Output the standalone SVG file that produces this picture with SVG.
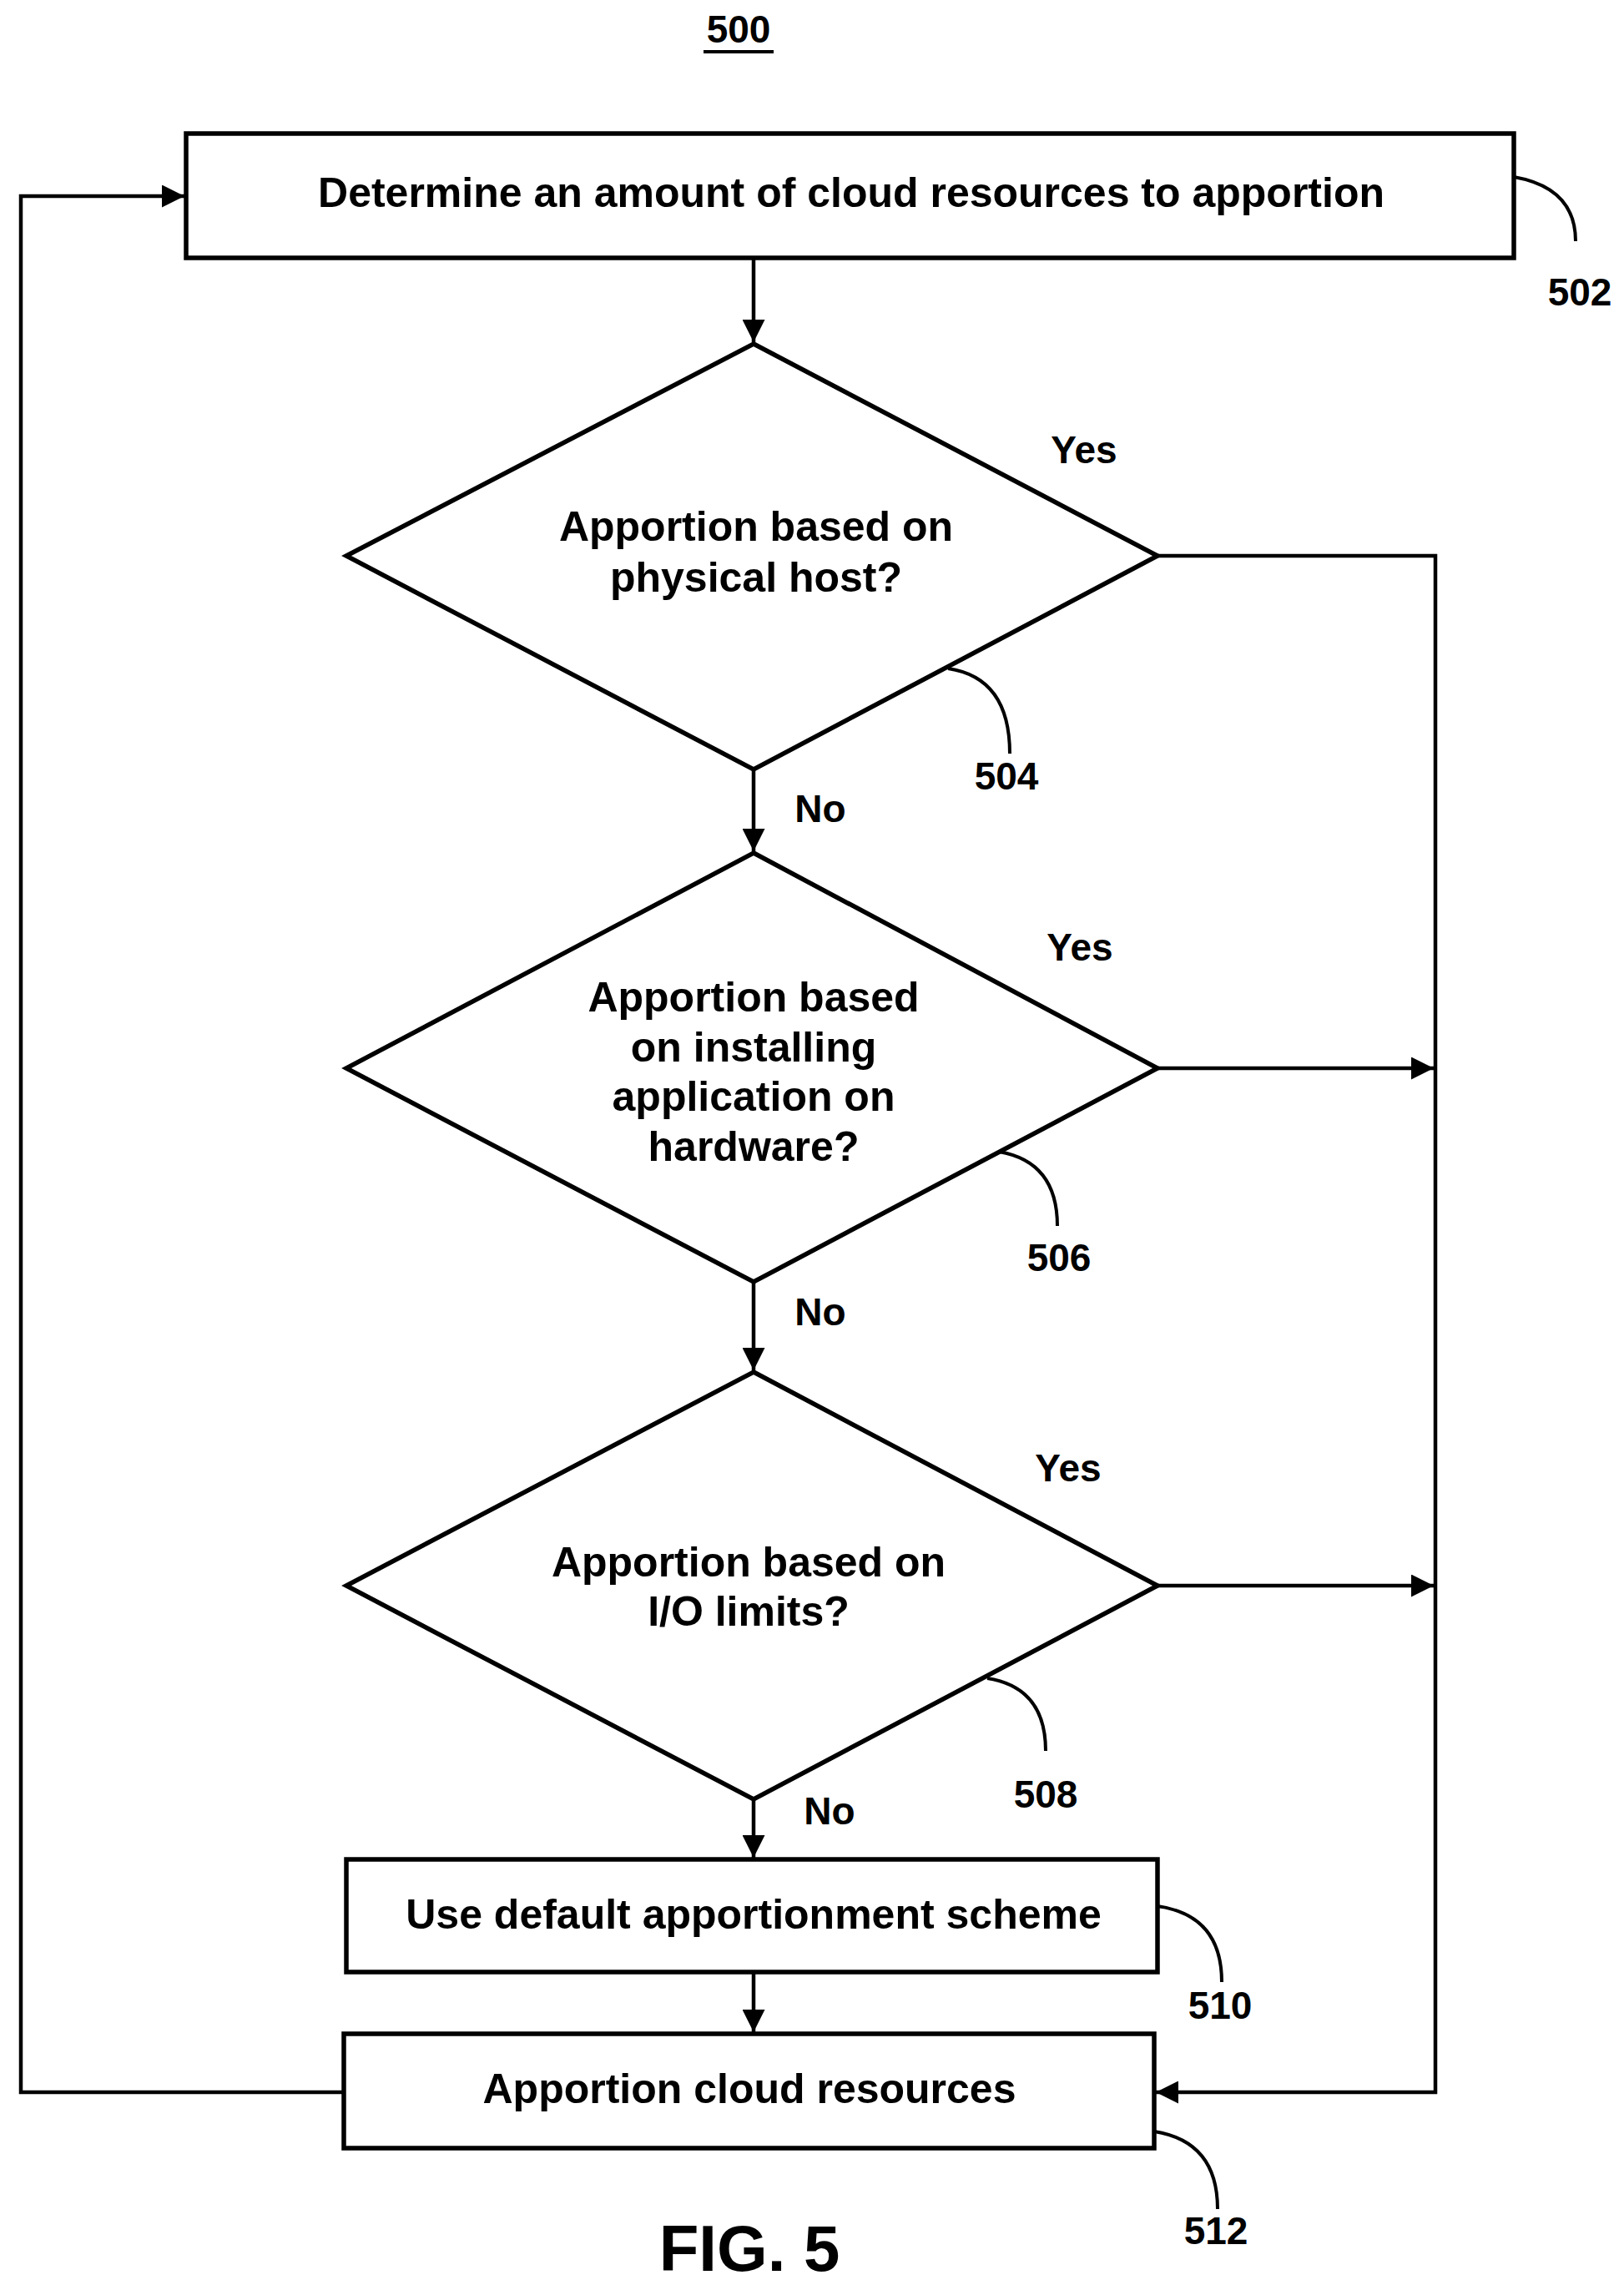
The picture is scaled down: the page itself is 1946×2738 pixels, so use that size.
<svg xmlns="http://www.w3.org/2000/svg" width="1946" height="2738" viewBox="0 0 1946 2738">
<style>
text{font-family:"Liberation Sans",Arial,sans-serif;font-weight:bold;fill:#000}
.t{font-size:50px;text-anchor:middle;dominant-baseline:middle}
.n{font-size:46px;text-anchor:middle;dominant-baseline:middle}
.s{fill:#fff;stroke:#000;stroke-width:5.5}
.c{fill:none;stroke:#000;stroke-width:4.5}
.l{fill:none;stroke:#000;stroke-width:4}
</style>
<defs><marker id="a" viewBox="0 0 10 10" refX="10" refY="5" markerWidth="6" markerHeight="6" markerUnits="strokeWidth" orient="auto"><path d="M0,0L10,5L0,10z" fill="#000"/></marker></defs>
<rect width="1946" height="2738" fill="#fff"/>
<text class="n" x="885" y="39">500</text>
<line x1="843" y1="62" x2="927" y2="62" stroke="#000" stroke-width="4"/>
<g id="connectors">
<line class="c" x1="903" y1="309" x2="903" y2="410" marker-end="url(#a)"/>
<line class="c" x1="903" y1="922" x2="903" y2="1020" marker-end="url(#a)"/>
<line class="c" x1="903" y1="1536" x2="903" y2="1642" marker-end="url(#a)"/>
<line class="c" x1="903" y1="2156" x2="903" y2="2226" marker-end="url(#a)"/>
<line class="c" x1="903" y1="2363" x2="903" y2="2435" marker-end="url(#a)"/>
<polyline class="c" points="1387,666 1720,666 1720,2507 1385,2507" marker-end="url(#a)"/>
<line class="c" x1="1387" y1="1280" x2="1718" y2="1280" marker-end="url(#a)"/>
<line class="c" x1="1387" y1="1900" x2="1718" y2="1900" marker-end="url(#a)"/>
<polyline class="c" points="412,2507 25,2507 25,235 221,235" marker-end="url(#a)"/>
<text class="n" x="1299" y="543">Yes</text>
<text class="n" x="1294" y="1139">Yes</text>
<text class="n" x="1280" y="1763">Yes</text>
<text class="n" x="983" y="973">No</text>
<text class="n" x="983" y="1576">No</text>
<text class="n" x="994" y="2174">No</text>
</g>
<g id="n502">
<rect class="s" x="223" y="160" width="1591" height="149"/>
<text class="t" x="1020" y="235">Determine an amount of cloud resources to apportion</text>
<path class="l" d="M1814,212 Q1888,225 1888,289"/>
<text class="n" x="1893" y="354">502</text>
</g>
<g id="n504">
<polygon class="s" points="903,412 1387,666 903,922 415,666"/>
<text class="t" x="906" y="635">Apportion based on</text>
<text class="t" x="906" y="696">physical host?</text>
<path class="l" d="M1136,801 Q1210,812 1210,903"/>
<text class="n" x="1206" y="934">504</text>
</g>
<g id="n506">
<polygon class="s" points="903,1022 1387,1280 903,1536 415,1280"/>
<text class="t" x="903" y="1199">Apportion based</text>
<text class="t" x="903" y="1259">on installing</text>
<text class="t" x="903" y="1318">application on</text>
<text class="t" x="903" y="1378">hardware?</text>
<path class="l" d="M1197,1380 Q1267,1392 1267,1469"/>
<text class="n" x="1269" y="1511">506</text>
</g>
<g id="n508">
<polygon class="s" points="903,1644 1387,1900 903,2156 415,1900"/>
<text class="t" x="897" y="1876">Apportion based on</text>
<text class="t" x="897" y="1935">I/O limits?</text>
<path class="l" d="M1183,2011 Q1253,2022 1253,2098"/>
<text class="n" x="1253" y="2154">508</text>
</g>
<g id="n510">
<rect class="s" x="415" y="2228" width="972" height="135"/>
<text class="t" x="903" y="2298">Use default apportionment scheme</text>
<path class="l" d="M1387,2284 Q1464,2295 1464,2375"/>
<text class="n" x="1462" y="2407">510</text>
</g>
<g id="n512">
<rect class="s" x="412" y="2437" width="971" height="137"/>
<text class="t" x="898" y="2507">Apportion cloud resources</text>
<path class="l" d="M1383,2554 Q1459,2566 1459,2647"/>
<text class="n" x="1457" y="2677">512</text>
</g>
<text x="898" y="2700" font-size="78" text-anchor="middle" dominant-baseline="middle">FIG. 5</text>
</svg>
